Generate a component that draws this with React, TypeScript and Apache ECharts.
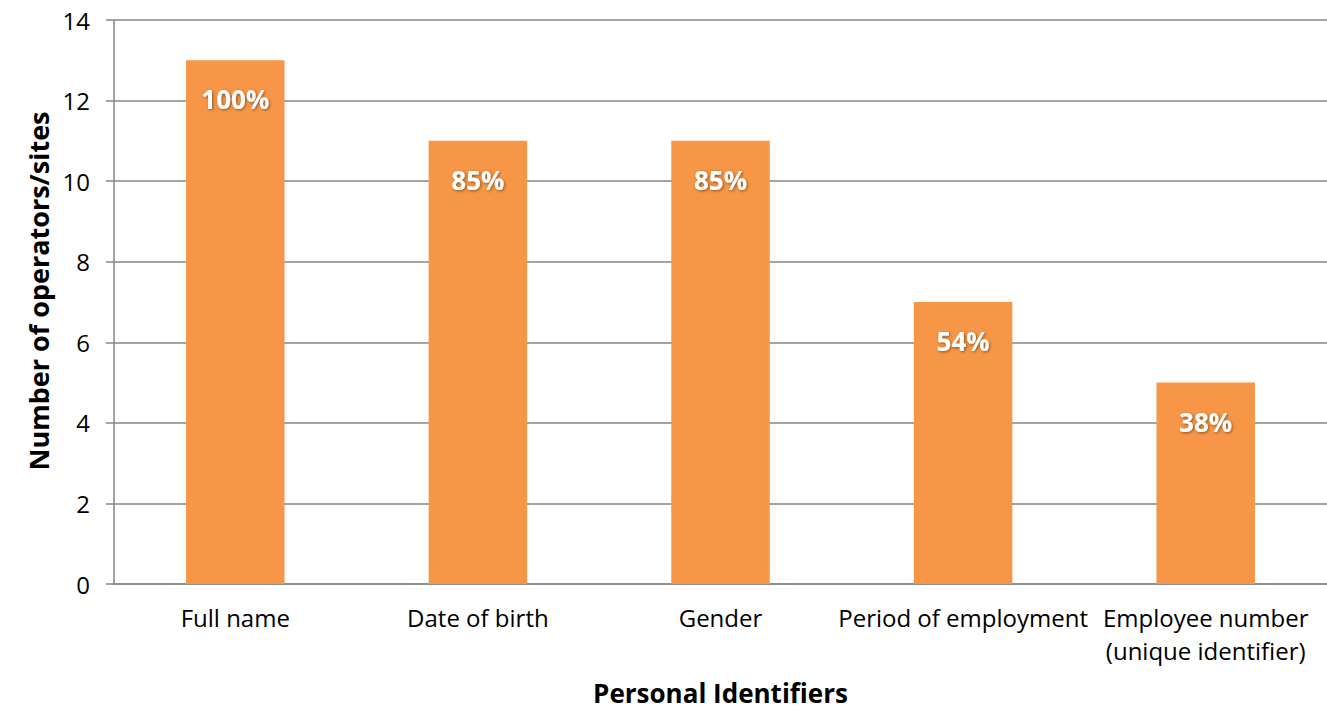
import React, { useEffect, useRef } from "react";
import * as echarts from "echarts";

const categories = [
  "Full name",
  "Date of birth",
  "Gender",
  "Period of employment",
  "Employee number\n(unique identifier)",
];
const counts = [13, 11, 11, 7, 5];
const percentLabels = ["100%", "85%", "85%", "54%", "38%"];
const yTicks = { min: 0, max: 14, interval: 2 };
const xAxisTitle = "Personal Identifiers";
const yAxisTitle = "Number of operators/sites";

const FONT = "'Open Sans', 'Noto Sans', sans-serif";

export default function App() {
  const ref = useRef<HTMLDivElement>(null);
  useEffect(() => {
    document.body.style.margin = "0";
    const chart = echarts.init(ref.current!, undefined, { renderer: "svg" });
    chart.setOption({
      animation: false,
      textStyle: { fontFamily: FONT },
      grid: { left: 114, top: 20, width: 1220, height: 568, containLabel: false },
      graphic: [
        {
          type: "text",
          x: 38,
          y: 291,
          rotation: Math.PI / 2,
          style: {
            text: yAxisTitle,
            fontFamily: FONT,
            fontSize: 27,
            fontWeight: "bold",
            fill: "#000",
            textAlign: "center",
            textVerticalAlign: "middle",
          },
        },
      ],
      xAxis: {
        type: "category",
        data: categories,
        name: xAxisTitle,
        nameLocation: "middle",
        nameGap: 96,
        nameTextStyle: { fontFamily: FONT, fontSize: 26, fontWeight: "bold", color: "#000" },
        axisLine: { lineStyle: { color: "#868686", width: 1.5 } },
        axisTick: { show: false },
        axisLabel: {
          fontFamily: FONT,
          fontSize: 24,
          color: "#000",
          margin: 17,
          lineHeight: 33,
          interval: 0,
        },
      },
      yAxis: {
        type: "value",
        min: yTicks.min,
        max: yTicks.max,
        interval: yTicks.interval,
        axisLine: { show: true, lineStyle: { color: "#868686", width: 1.5 } },
        axisTick: { show: true, length: 8, lineStyle: { color: "#868686", width: 1.5 } },
        axisLabel: { fontFamily: FONT, fontSize: 24, color: "#000", margin: 24 },
        splitLine: { lineStyle: { color: "#868686", width: 1.5 } },
      },
      series: [
        {
          type: "bar",
          data: counts,
          barWidth: "40.6%",
          itemStyle: { color: "#F79646" },
          label: {
            show: true,
            position: "insideTop",
            distance: 26,
            formatter: (p: any) => percentLabels[p.dataIndex],
            fontFamily: FONT,
            fontSize: 26,
            fontWeight: "bold",
            color: "#fff",
            textShadowColor: "rgba(0,0,0,0.45)",
            textShadowBlur: 3,
            textShadowOffsetX: 1,
            textShadowOffsetY: 1,
          },
        },
      ],
    });
    return () => chart.dispose();
  }, []);
  return <div ref={ref} style={{ width: 1327, height: 711 }} />;
}
